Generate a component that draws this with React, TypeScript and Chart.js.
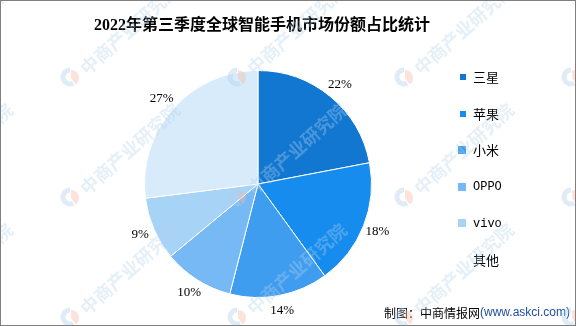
import React, { useEffect, useRef } from "react";
import { Chart, registerables } from "chart.js";

Chart.register(...registerables);

const titleText = "2022年第三季度全球智能手机市场份额占比统计";
const categories = ["三星", "苹果", "小米", "OPPO", "vivo", "其他"];
const shares = [22, 18, 14, 10, 9, 27];
const sliceColors = ["#1177D1", "#168CEE", "#3F9DF0", "#76B9F5", "#A7D3F7", "#D7EBFB"];
const legendMarkerColors = ["#1177D1", "#168CEE", "#3F9DF0", "#76B9F5", "#A7D3F7", "#FFFFFF"];
const legendMarkerSizes = [6, 6, 8, 8, 8, 8];
const sourceLabel = "制图：中商情报网";
const sourceUrl = "(www.askci.com)";
const watermarkText = "中商产业研究院";

const CJK = "'Noto Sans CJK SC'";
const SERIF = "'Liberation Serif', 'Noto Sans CJK SC'";

const overlayPlugin = {
  id: "overlay",
  afterDatasetsDraw(chart: any) {
    const ctx = chart.ctx as CanvasRenderingContext2D;
    const meta = chart.getDatasetMeta(0);
    ctx.save();
    ctx.fillStyle = "#000";
    ctx.font = `13px ${SERIF}`;
    ctx.textAlign = "center";
    ctx.textBaseline = "middle";
    meta.data.forEach((arc: any, i: number) => {
      const p = arc.getProps(["x", "y", "startAngle", "endAngle", "outerRadius"], true);
      const mid = (p.startAngle + p.endAngle) / 2;
      const r = p.outerRadius + 15;
      ctx.fillText(`${shares[i]}%`, p.x + Math.cos(mid) * r, p.y + Math.sin(mid) * r);
    });
    ctx.restore();
  },
  afterDraw(chart: any) {
    const ctx = chart.ctx as CanvasRenderingContext2D;
    const W = chart.width;
    const H = chart.height;
    ctx.save();
    // title
    ctx.fillStyle = "#000";
    ctx.font = `bold 16px ${SERIF}`;
    ctx.textAlign = "center";
    ctx.textBaseline = "middle";
    ctx.fillText(titleText, 262, 26);

    // legend
    ctx.textAlign = "left";
    categories.forEach((c, i) => {
      const y = 77 + i * 36.6;
      const s = legendMarkerSizes[i];
      ctx.fillStyle = legendMarkerColors[i];
      ctx.fillRect(466 - s, Math.round(y - s / 2), s, s);
      ctx.fillStyle = "#000";
      const latin = /^[A-Za-z]+$/.test(c);
      ctx.font = latin ? "12px 'Liberation Mono'" : `13px ${CJK}`;
      ctx.fillText(c, 473, y);
    });

    // source
    ctx.font = `12px ${CJK}`;
    ctx.fillStyle = "#000";
    ctx.textBaseline = "middle";
    ctx.fillText(sourceLabel, 384, 313);
    const w = ctx.measureText(sourceLabel).width;
    ctx.font = "12px 'Liberation Sans'";
    ctx.fillStyle = "#1F4FA0";
    ctx.fillText(sourceUrl, 384 + w, 313);

    // watermark
    const cols = [-97, 70, 237, 404, 571];
    const rows = [77, 197, 317, 437];
    cols.forEach((lx) => {
      rows.forEach((ly) => {
        ctx.save();
        ctx.lineWidth = 5;
        ctx.strokeStyle = "rgba(175,208,235,0.4)";
        ctx.beginPath();
        ctx.arc(lx, ly, 7, Math.PI * 0.35, Math.PI * 1.5);
        ctx.stroke();
        ctx.fillStyle = "rgba(245,185,165,0.4)";
        ctx.beginPath();
        ctx.moveTo(lx + 1, ly + 1);
        ctx.arc(lx + 1, ly + 1, 8, -Math.PI * 0.5, Math.PI * 0.3);
        ctx.closePath();
        ctx.fill();
        ctx.translate(lx + 13, ly - 6);
        ctx.rotate(-0.73);
        ctx.font = `bold 18px ${CJK}`;
        ctx.fillStyle = "rgba(180,210,236,0.35)";
        ctx.textAlign = "left";
        ctx.textBaseline = "middle";
        ctx.fillText(watermarkText, 0, 0);
        ctx.restore();
      });
    });

    // border
    ctx.strokeStyle = "#808080";
    ctx.lineWidth = 1;
    ctx.strokeRect(0.5, 0.5, W - 1, H - 1);
    ctx.restore();
  },
};

export default function App() {
  const ref = useRef<HTMLCanvasElement | null>(null);
  useEffect(() => {
    document.body.style.margin = "0";
    const canvas = ref.current;
    if (!canvas) return;
    const chart = new Chart(canvas, {
      type: "pie",
      data: {
        labels: categories,
        datasets: [
          {
            data: shares,
            backgroundColor: sliceColors,
            borderColor: "#FFFFFF",
            borderWidth: 1,
          },
        ],
      },
      options: {
        responsive: false,
        animation: false,
        layout: { padding: { left: 144, right: 204, top: 70, bottom: 28 } },
        plugins: {
          legend: { display: false },
          title: { display: false },
          tooltip: { enabled: false },
        },
      },
      plugins: [overlayPlugin],
    });
    return () => chart.destroy();
  }, []);
  return (
    <div style={{ width: 576, height: 326, background: "#fff" }}>
      <canvas ref={ref} width={576} height={326} style={{ display: "block" }} />
    </div>
  );
}
